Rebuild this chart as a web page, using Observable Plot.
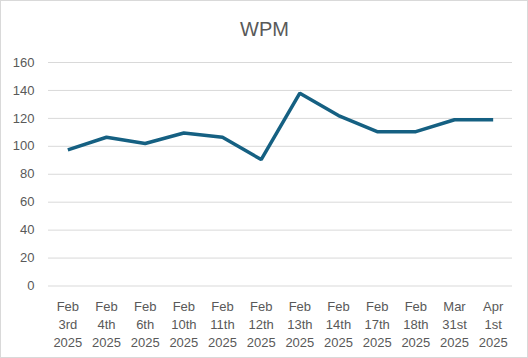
<!DOCTYPE html>
<html>
<head>
<meta charset="utf-8">
<script src="https://cdn.jsdelivr.net/npm/d3@7"></script>
<script src="https://cdn.jsdelivr.net/npm/@observablehq/plot@0.6"></script>
<style>
  html, body { margin: 0; padding: 0; background: #fff; }
  #chart { width: 526px; height: 356px; border: 1px solid #d9d9d9; overflow: hidden; }
  svg { font-family: "Liberation Sans", Arial, sans-serif; }
</style>
</head>
<body>
<div id="chart"></div>
<script>
const title = "WPM";
const dates = ["Feb\n3rd\n2025", "Feb\n4th\n2025", "Feb\n6th\n2025", "Feb\n10th\n2025", "Feb\n11th\n2025", "Feb\n12th\n2025",
  "Feb\n13th\n2025", "Feb\n14th\n2025", "Feb\n17th\n2025", "Feb\n18th\n2025", "Mar\n31st\n2025", "Apr\n1st\n2025"];
const wpm = [97.5, 106.5, 102, 109.5, 106.5, 90.5, 138, 122, 110.5, 110.5, 119, 119];
const yTicks = [0, 20, 40, 60, 80, 100, 120, 140, 160];

const data = dates.map((d, i) => ({date: d, wpm: wpm[i]}));

const chart = Plot.plot({
  width: 526,
  height: 356,
  marginTop: 61,
  marginBottom: 71.5,
  marginLeft: 47,
  marginRight: 15,
  style: {fontSize: "13px", color: "#595959", background: "#fff"},
  x: {type: "point", domain: dates, padding: 0.5, align: 0.5, round: false, label: null},
  y: {domain: [0, 160], ticks: yTicks, label: null},
  marks: [
    Plot.gridY(yTicks, {stroke: "#d9d9d9", strokeOpacity: 1, strokeWidth: 1}),
    Plot.axisY(yTicks, {tickSize: 0, tickPadding: 14, fill: "#595959", fontSize: 13, label: null}),
    Plot.axisX({tickSize: 0, tickPadding: 12, fill: "#595959", fontSize: 13, lineHeight: 1.4, label: null}),
    Plot.line(data, {x: "date", y: "wpm", stroke: "#156082", strokeWidth: 3.5, strokeLinejoin: "miter", strokeLinecap: "butt"}),
    Plot.text([title], {frameAnchor: "top", lineAnchor: "middle", dy: -33, dx: -16, fontSize: 20, fill: "#595959"})
  ]
});
document.getElementById("chart").appendChild(chart);
</script>
</body>
</html>
